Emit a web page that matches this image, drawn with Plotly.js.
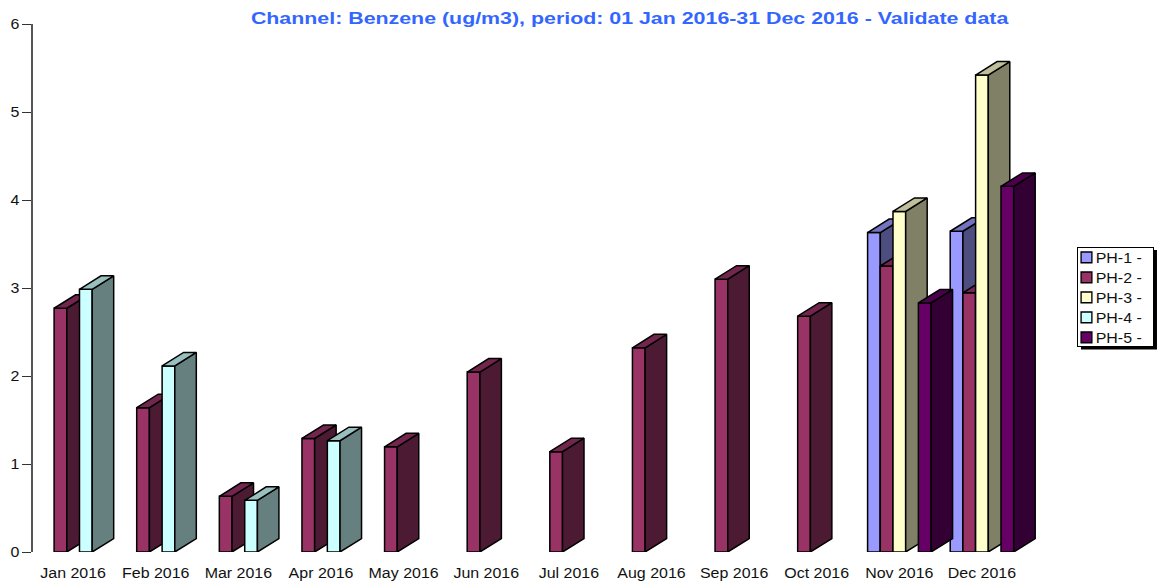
<!DOCTYPE html>
<html>
<head>
<meta charset="utf-8">
<script src="https://cdn.plot.ly/plotly-3.0.1.min.js"></script>
<style>html,body{margin:0;padding:0;background:#fff;overflow:hidden}</style>
</head>
<body>
<div id="chart" style="width:1160px;height:581px"></div>
<script>
const months = ["Jan 2016","Feb 2016","Mar 2016","Apr 2016","May 2016","Jun 2016","Jul 2016","Aug 2016","Sep 2016","Oct 2016","Nov 2016","Dec 2016"];
const ph1 = [null,null,null,null,null,null,null,null,null,null,3.63,3.645];
const ph2 = [2.77,1.64,0.633,1.29,1.195,2.045,1.14,2.32,3.10,2.68,3.25,2.945];
const ph3 = [null,null,null,null,null,null,null,null,null,null,3.87,5.42];
const ph4 = [2.985,2.115,0.587,1.265,null,null,null,null,null,null,null,null];
const ph5 = [null,null,null,null,null,null,null,null,null,null,2.83,4.155];
const seriesNames = ["PH-1 -","PH-2 -","PH-3 -","PH-4 -","PH-5 -"];
const seriesValues = [ph1,ph2,ph3,ph4,ph5];
const frontColors = ["#9999ff","#993366","#ffffcc","#ccffff","#660066"];
const sideColors  = ["#4d4d80","#4d1a33","#808066","#668080","#330033"];
const topColors   = ["#7373bf","#73264d","#bfbf99","#99bfbf","#4d004d"];

const W = 1160, H = 581, L = 32.75, T = 23.5, R = 1040, B = 552.5;
const pxPerCat = 82.64, pxPerUnit = (B - T) / 6;
const barW = 12.7 / pxPerCat;
const depthX = 21.5 / pxPerCat, depthY = 13.5 / pxPerUnit;
const firstCatPx = 72.9;
const xMin = (L - firstCatPx) / pxPerCat, xMax = xMin + (R - L) / pxPerCat;
const cats = months.map((_, i) => i);

const traces = [];
seriesValues.forEach((vals, s) => {
  const yName = s === 0 ? "y" : "y" + (s + 1);
  const off = (s - 2.5) * barW;
  traces.push({
    type: "bar", name: seriesNames[s], x: cats, y: vals, yaxis: yName,
    width: barW, offset: off,
    marker: {color: frontColors[s], line: {color: "#000", width: 1.5}},
    hoverinfo: "y"
  });
  const sx = [], sy = [], tx = [], ty = [];
  vals.forEach((v, i) => {
    if (v === null) return;
    const a = i + off, b = a + barW;
    sx.push(b, b + depthX, b + depthX, b, b, null);
    sy.push(0, depthY, v + depthY, v, 0, null);
    tx.push(a, a + depthX, b + depthX, b, a, null);
    ty.push(v, v + depthY, v + depthY, v, v, null);
  });
  [[sx, sy, sideColors[s]], [tx, ty, topColors[s]]].forEach(p => traces.push({
    type: "scatter", mode: "lines", x: p[0], y: p[1], yaxis: yName,
    fill: "toself", fillcolor: p[2], line: {color: "#000", width: 1.5},
    showlegend: false, hoverinfo: "skip", cliponaxis: false
  }));
});

const plotW = R - L, plotH = B - T;
const fx = px => (px - L) / plotW, fy = px => (B - px) / plotH;
const FONT = "Liberation Sans, Arial, sans-serif";
const layout = {
  width: W, height: H,
  paper_bgcolor: "#fff", plot_bgcolor: "#fff",
  margin: {l: L, r: W - R, t: T, b: H - B, pad: 0, autoexpand: false},
  barmode: "overlay",
  title: {text: "Channel: Benzene (ug/m3), period: 01 Jan 2016-31 Dec 2016 - Validate data",
    x: fx(629.5), xanchor: "center", xref: "paper", y: 1 - 18.5 / H, yanchor: "middle",
    font: {family: FONT, size: 16, color: "#3366ff", weight: 700}},
  xaxis: {range: [xMin, xMax], tickmode: "array", tickvals: cats, ticktext: months,
    showgrid: false, zeroline: false, showline: false, ticks: "outside", ticklen: 8, tickcolor: "rgba(0,0,0,0)",
    tickfont: {family: FONT, size: 14, color: "#111"}, fixedrange: true},
  yaxis: {range: [0, 6], tickmode: "array", tickvals: [0,1,2,3,4,5,6], showgrid: false, zeroline: false,
    showline: true, linecolor: "#555", linewidth: 1.5, ticks: "outside", ticklen: 9, tickwidth: 1, tickcolor: "#333",
    tickfont: {family: FONT, size: 14.5, color: "#111"}, fixedrange: true},
  showlegend: true,
  legend: {x: fx(1076.7), xanchor: "left", y: fy(246.7), yanchor: "top",
    bgcolor: "#fff", bordercolor: "#000", borderwidth: 1,
    font: {family: FONT, size: 14, color: "#111"}, traceorder: "normal"},
  shapes: [{type: "rect", xref: "paper", yref: "paper", layer: "below",
    x0: fx(1081), x1: fx(1157), y0: fy(250), y1: fy(349.5),
    fillcolor: "#000", line: {width: 0}}]
};
for (let s = 2; s <= 5; s++) {
  layout["yaxis" + s] = {range: [0, 6], overlaying: "y", visible: false, fixedrange: true};
}

function stretch(sel, k) {
  document.querySelectorAll(sel).forEach(t => {
    t.removeAttribute("textLength");
    const len = t.getComputedTextLength();
    t.setAttribute("textLength", (len * k).toFixed(1));
    t.setAttribute("lengthAdjust", "spacingAndGlyphs");
  });
}
function polish() {
  stretch(".gtitle", 1.335);
  stretch(".xtick text", 1.14);
  stretch(".ytick text", 1.1);
  stretch(".legendtext", 1.14);
  // compact the legend to the reference's tight swatch spacing
  const lg = document.querySelector(".legend");
  if (!lg) return;
  lg.querySelectorAll(".legendtext").forEach(t => t.setAttribute("x", 19));
  lg.querySelectorAll(".legendpoints").forEach(p => p.setAttribute("transform", "translate(-8.2,0) scale(0.9)"));
  lg.querySelectorAll(".traces").forEach((g, i) => g.setAttribute("transform", "translate(0," + (10.6 + 20 * i) + ")"));
  const bg = lg.querySelector("rect.bg");
  if (bg) { bg.setAttribute("width", 76.5); bg.setAttribute("height", 99); }
}
Plotly.newPlot("chart", traces, layout, {displayModeBar: false, responsive: false}).then(polish);
</script>
</body>
</html>
